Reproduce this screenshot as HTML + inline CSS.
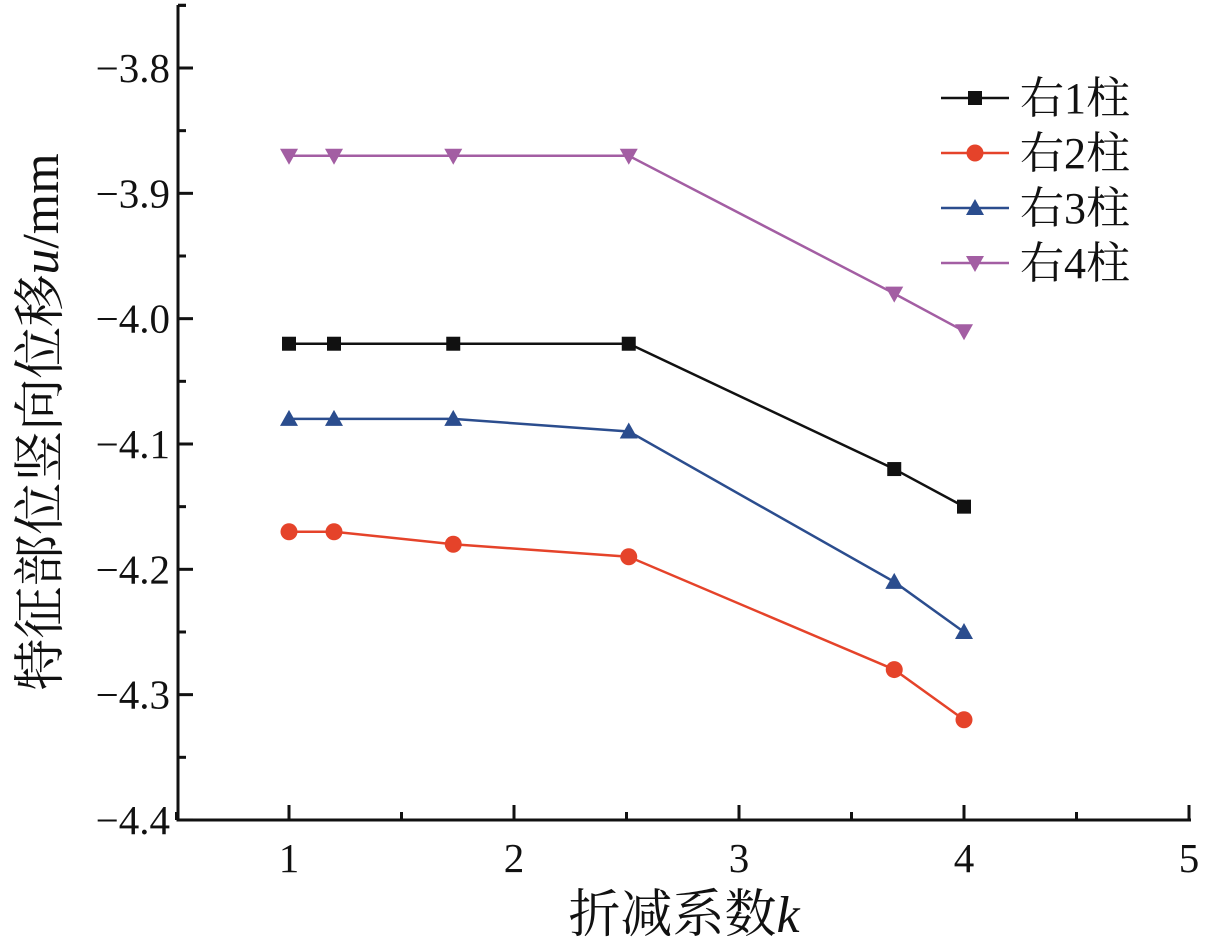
<!DOCTYPE html>
<html><head><meta charset="utf-8"><style>
html,body{margin:0;padding:0;background:#fff}
svg text{font-family:"Liberation Serif","Noto Serif CJK SC",serif;fill:#111}
</style></head><body>
<svg id="c" width="1211" height="947" xmlns="http://www.w3.org/2000/svg"></svg>
<script>
const xValues=[1,1.2,1.73,2.51,3.69,4.0];
const seriesNames=["右1柱","右2柱","右3柱","右4柱"];
const s1=[-4.02,-4.02,-4.02,-4.02,-4.12,-4.15];
const s2=[-4.17,-4.17,-4.18,-4.19,-4.28,-4.32];
const s3=[-4.08,-4.08,-4.08,-4.09,-4.21,-4.25];
const s4=[-3.87,-3.87,-3.87,-3.87,-3.98,-4.01];
const xTicks=[1,2,3,4,5];
const yTicks=[-3.8,-3.9,-4.0,-4.1,-4.2,-4.3,-4.4];
const yTickLabels=["−3.8","−3.9","−4.0","−4.1","−4.2","−4.3","−4.4"];
const colors=["#111111","#e5432a","#2b4d8e","#a35ea3"];
const markers=["square","circle","up","down"];
const X=v=>289+(v-1)*225;
const Y=v=>68+(-3.8-v)/0.1*125.33;
const svg=document.getElementById('c');
const NS="http://www.w3.org/2000/svg";
function mk(t,a,p){const e=document.createElementNS(NS,t);for(const k in a)e.setAttribute(k,a[k]);(p||svg).appendChild(e);return e;}
const x0=178,y0=820;
let ax=mk('path',{d:`M${x0} 5 V${y0} H1191`,stroke:'#111','stroke-width':3,fill:'none'});


for(let i=0;i<xTicks.length;i++){
 const x=X(xTicks[i]);
 let t=mk('line',{x1:x,x2:x,y1:y0,y2:y0-15,stroke:'#111','stroke-width':3});
 
 
 const m=X(xTicks[i]-0.5);
 mk('line',{x1:m,x2:m,y1:y0,y2:y0-8,stroke:'#111','stroke-width':3});
 let l=mk('text',{x:x,y:y0+52,'text-anchor':'middle','font-size':41});
 l.textContent=xTicks[i];
 
 
}
for(let i=0;i<yTicks.length;i++){
 const y=Y(yTicks[i]);
 let t=mk('line',{x1:x0,x2:x0+15,y1:y,y2:y,stroke:'#111','stroke-width':3});
 
 
 const m=Y(yTicks[i]+0.05);
 mk('line',{x1:x0,x2:x0+8,y1:m,y2:m,stroke:'#111','stroke-width':3});
 let l=mk('text',{x:x0-8,y:y+14,'text-anchor':'end','font-size':41});
 l.textContent=yTickLabels[i];
 
 
}
mk('line',{x1:x0,x2:x0+8,y1:Y(-3.75),y2:Y(-3.75),stroke:'#111','stroke-width':3});
let xt=mk('text',{x:684,y:932,'text-anchor':'middle','font-size':52});
xt.innerHTML='折减系数<tspan font-style="italic">k</tspan>';


let yt=mk('text',{x:0,y:0,'text-anchor':'middle','font-size':52,transform:'translate(58,422) rotate(-90)'});
yt.innerHTML='特征部位竖向位移<tspan font-style="italic">u</tspan>/mm';


function marker(type,x,y,c,g){
 if(type=='square')return mk('rect',{x:x-7,y:y-7,width:14,height:14,fill:c},g);
 if(type=='circle')return mk('circle',{cx:x,cy:y,r:8.5,fill:c},g);
 if(type=='up')return mk('path',{d:`M${x} ${y-9}L${x+9} ${y+7}L${x-9} ${y+7}Z`,fill:c},g);
 return mk('path',{d:`M${x} ${y+9}L${x+9} ${y-7}L${x-9} ${y-7}Z`,fill:c},g);
}
const all=[s1,s2,s3,s4];
all.forEach((s,k)=>{
 const g=mk('g',{});
 
 
 mk('polyline',{points:s.map((v,i)=>X(xValues[i])+','+Y(v)).join(' '),fill:'none',stroke:colors[k],'stroke-width':2.5},g);
 s.forEach((v,i)=>{
  const m=marker(markers[k],X(xValues[i]),Y(v),colors[k],g);
  
  
 });
 const ly=98+k*55;
 const lg=mk('g',{});
 
 
 mk('line',{x1:941,x2:1009,y1:ly,y2:ly,stroke:colors[k],'stroke-width':2.5},lg);
 marker(markers[k],975,ly,colors[k],lg);
 const t=mk('text',{x:1020,y:ly+15,'font-size':44},lg);
 t.textContent=seriesNames[k];
});
</script>
</body></html>
